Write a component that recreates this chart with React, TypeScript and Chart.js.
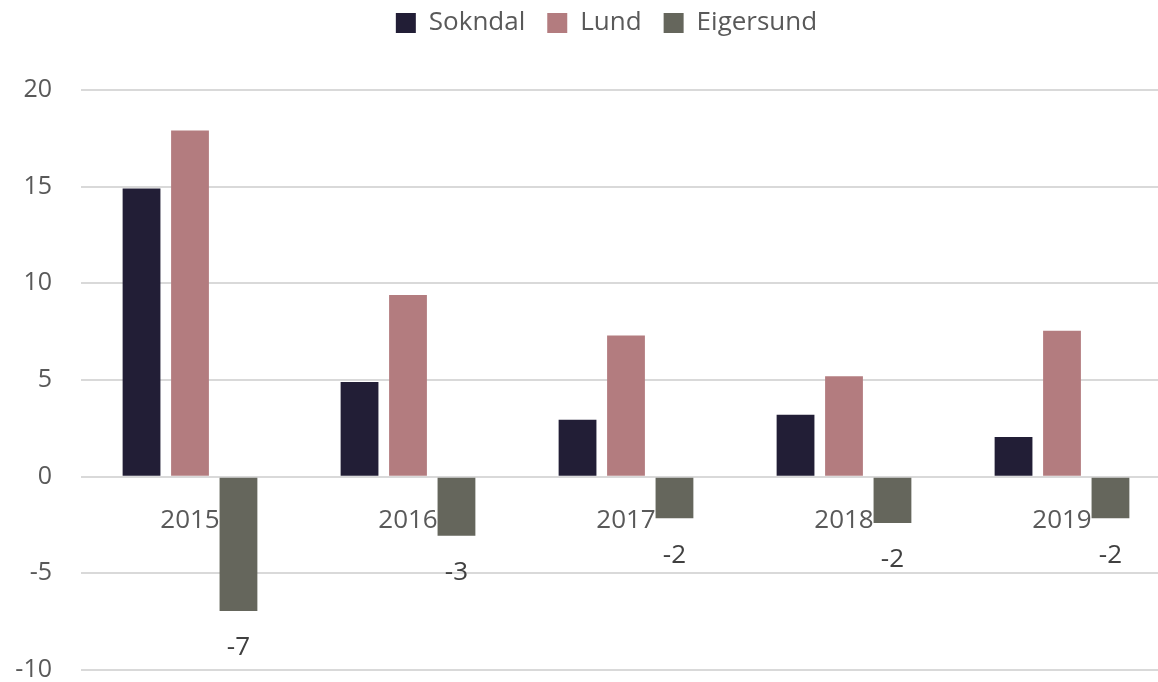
import React, { useEffect, useRef } from "react";
import { Chart, registerables } from "chart.js";

Chart.register(...registerables);

const categories = ["2015", "2016", "2017", "2018", "2019"];
const sokndal = [14.9, 4.9, 2.95, 3.2, 2.05];
const lund = [17.9, 9.4, 7.3, 5.2, 7.55];
const eigersund = [-6.95, -3.05, -2.15, -2.4, -2.15];
const yTicks = [20, 15, 10, 5, 0, -5, -10];

const FONT = "'Open Sans', sans-serif";

const negLabels = {
  id: "negLabels",
  afterDatasetsDraw(chart: any) {
    const ctx = chart.ctx;
    const meta = chart.getDatasetMeta(2);
    ctx.save();
    ctx.font = `26px ${FONT}`;
    ctx.fillStyle = "#404040";
    ctx.textAlign = "center";
    ctx.textBaseline = "middle";
    meta.data.forEach((bar: any, i: number) => {
      const v = eigersund[i];
      ctx.fillText(String(Math.round(v)), bar.x, bar.y + 37);
    });
    ctx.restore();
  },
};

const legendShift = {
  id: "legendShift",
  afterLayout(chart: any) {
    if (chart.legend) {
      chart.legend.left += 21;
      chart.legend.right += 21;
    }
  },
};

export default function App() {
  const ref = useRef<HTMLCanvasElement>(null);
  useEffect(() => {
    document.body.style.margin = "0";
    document.body.style.overflow = "hidden";
    const chart = new Chart(ref.current!, {
      type: "bar",
      data: {
        labels: categories,
        datasets: [
          { label: "Sokndal", data: sokndal, backgroundColor: "#221e36" },
          { label: "Lund", data: lund, backgroundColor: "#b37c7f" },
          { label: "Eigersund", data: eigersund, backgroundColor: "#65665c" },
        ],
      },
      options: {
        animation: false,
        responsive: false,
        maintainAspectRatio: false,
        datasets: { bar: { categoryPercentage: 0.667, barPercentage: 0.78 } },
        layout: { padding: { top: -12, bottom: 0, left: 0, right: 0 } },
        plugins: {
          legend: {
            position: "top",
            labels: {
              font: { family: FONT, size: 26 },
              color: "#595959",
              boxWidth: 20,
              boxHeight: 20,
              padding: 22,
            },
          },
          title: {
            display: true,
            text: "",
            weight: 500,
            font: { size: 10 },
            padding: 16,
          } as any,
          tooltip: { enabled: false },
        },
        scales: {
          x: {
            position: { y: 0 } as any,
            grid: { display: false },
            border: { display: false },
            ticks: {
              font: { family: FONT, size: 26 },
              color: "#595959",
              padding: 20,
            },
          },
          y: {
            min: -10,
            max: 20,
            afterFit: (s: any) => {
              s.width = 81;
            },
            afterBuildTicks: (s: any) => {
              s.ticks = yTicks.map((v) => ({ value: v }));
            },
            grid: { color: "#d9d9d9", lineWidth: 2, drawTicks: false },
            border: { display: false },
            ticks: {
              font: { family: FONT, size: 25 },
              color: "#595959",
              padding: 29,
            },
          },
        },
      },
      plugins: [negLabels, legendShift],
    });
    return () => chart.destroy();
  }, []);
  return (
    <div style={{ width: 1158, height: 682, overflow: "hidden", position: "relative" }}>
      <canvas ref={ref} width={1171} height={714} style={{ position: "absolute", left: 0, top: 0 }} />
    </div>
  );
}
